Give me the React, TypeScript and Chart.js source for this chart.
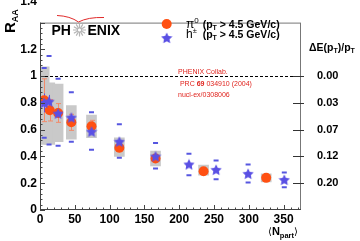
import React, { useEffect, useRef } from 'react';
import { Chart, registerables } from 'chart.js';

Chart.register(...registerables);

// ---------------- data ----------------
const pi0Npart = [6, 14, 26, 45, 74, 114, 166, 235, 325];
const pi0Raa = [0.82, 0.745, 0.725, 0.655, 0.625, 0.465, 0.385, 0.29, 0.24];
const pi0Err = [0.16, 0.08, 0.07, 0.06, 0.045, 0.03, 0.02, 0.015, 0.01];
const pi0SysLo = [0.49, 0.49, 0.51, 0.53, 0.54, 0.4, 0.33, 0.26, 0.21];
const pi0SysHi = [1.07, 0.95, 0.94, 0.78, 0.71, 0.54, 0.44, 0.335, 0.27];

const hNpart = [6, 13, 26, 45, 74, 114, 166, 214, 253, 299, 351];
const hRaa = [0.8, 0.81, 0.72, 0.69, 0.585, 0.51, 0.4, 0.34, 0.3, 0.27, 0.225];
const hErr = [0.07, 0.05, 0.03, 0, 0, 0, 0, 0, 0, 0, 0];
const hSysHi = [1.06, 1.15, 0.98, 0.88, 0.73, 0.64, 0.5, 0.42, 0.37, 0.34, 0.28];
const hSysLo = [0.54, 0.49, 0.48, 0.51, 0.45, 0.39, 0.31, 0.26, 0.23, 0.205, 0.17];

const xTickValues = [0, 50, 100, 150, 200, 250, 300, 350];
const xTickLabels = ['0', '50', '100', '150', '200', '250', '300', '350'];
const yTickValues = [0, 0.2, 0.4, 0.6, 0.8, 1.0, 1.2];
const yTickLabels = ['0', '0.2', '0.4', '0.6', '0.8', '1', '1.2'];
const rightTickValues = [1.0, 0.8, 0.6, 0.4, 0.2];
const rightTickLabels = ['0.00', '0.03', '0.07', '0.12', '0.20'];

const FONT = '"Liberation Sans", Arial, Helvetica, sans-serif';
const ORANGE = '#ff5012';
const BLUE = '#5a50e4';
const DASHBLUE = '#5656e0';
const GRAY = '#c9c9c9';
const ERRC = '#f28a6a';
const RED = '#e0241e';

function makeStar(size: number, color: string) {
  const c = document.createElement('canvas');
  c.width = size;
  c.height = size;
  const g = c.getContext('2d')!;
  const cx = size / 2, cy = size / 2 + 0.4;
  const ro = size / 2 - 0.1, ri = ro * 0.5;
  g.beginPath();
  for (let i = 0; i < 10; i++) {
    const r = i % 2 === 0 ? ro : ri;
    const a = -Math.PI / 2 + (i * Math.PI) / 5;
    const px = cx + r * Math.cos(a), py = cy + r * Math.sin(a);
    if (i === 0) g.moveTo(px, py); else g.lineTo(px, py);
  }
  g.closePath();
  g.fillStyle = color;
  g.fill();
  return c;
}

type Part = [string, string, number];
function rich(ctx: CanvasRenderingContext2D, x: number, y: number, parts: Part[]) {
  let cx = x;
  for (const [t, f, dy] of parts) {
    ctx.font = f;
    ctx.fillText(t, cx, y + dy);
    cx += ctx.measureText(t).width;
  }
}

export default function App() {
  const ref = useRef<HTMLCanvasElement | null>(null);

  useEffect(() => {
    const canvas = ref.current!;
    const star = makeStar(12, BLUE);

    const errPlugin = {
      id: 'errbars',
      afterDatasetDraw(chart: any, args: any) {
        if (args.index !== 0) return;
        const ctx = chart.ctx as CanvasRenderingContext2D;
        const xs = chart.scales.x, ys = chart.scales.y;
        ctx.save();
        ctx.lineWidth = 1;
        ctx.strokeStyle = ERRC;
        pi0Npart.forEach((n, i) => {
          if (!pi0Err[i]) return;
          const px = Math.round(xs.getPixelForValue(n)) + 0.5;
          const y1 = ys.getPixelForValue(pi0Raa[i] + pi0Err[i]);
          const y2 = ys.getPixelForValue(pi0Raa[i] - pi0Err[i]);
          ctx.beginPath();
          ctx.moveTo(px, y1); ctx.lineTo(px, y2);
          ctx.moveTo(px - 2.5, y1); ctx.lineTo(px + 2.5, y1);
          ctx.moveTo(px - 2.5, y2); ctx.lineTo(px + 2.5, y2);
          ctx.stroke();
        });
        ctx.strokeStyle = BLUE;
        hNpart.forEach((n, i) => {
          if (!hErr[i]) return;
          const px = Math.round(xs.getPixelForValue(n)) + 0.5;
          const y1 = ys.getPixelForValue(hRaa[i] + hErr[i]);
          const y2 = ys.getPixelForValue(hRaa[i] - hErr[i]);
          ctx.beginPath();
          ctx.moveTo(px, y1); ctx.lineTo(px, y2);
          ctx.stroke();
        });
        ctx.restore();
      },
    };

    const decor = {
      id: 'decor',
      afterDraw(chart: any) {
        const ctx = chart.ctx as CanvasRenderingContext2D;
        const { left, right, top, bottom } = chart.chartArea;
        const xs = chart.scales.x, ys = chart.scales.y;
        ctx.save();
        // dashed unity line
        const y1 = Math.round(ys.getPixelForValue(1)) + 0.5;
        ctx.strokeStyle = '#000';
        ctx.lineWidth = 1.2;
        ctx.setLineDash([3, 2]);
        ctx.beginPath();
        ctx.moveTo(left, y1); ctx.lineTo(right, y1);
        ctx.stroke();
        ctx.setLineDash([]);
        // frame
        ctx.strokeStyle = '#777';
        ctx.lineWidth = 1;
        ctx.strokeRect(left + 0.5, top + 0.5, right - left - 1, bottom - top - 1);
        ctx.strokeStyle = '#444';
        ctx.beginPath();
        ctx.moveTo(left + 0.5, top); ctx.lineTo(left + 0.5, bottom);
        ctx.moveTo(left, bottom - 0.5); ctx.lineTo(right, bottom - 0.5);
        ctx.stroke();
        // ticks
        ctx.strokeStyle = '#444';
        ctx.beginPath();
        for (let v = 0; v <= 375; v += 10) {
          const px = Math.round(xs.getPixelForValue(v)) + 0.5;
          const len = v % 50 === 0 ? 5 : 2.5;
          ctx.moveTo(px, bottom); ctx.lineTo(px, bottom - len);
        }
        for (let k = 0; k <= 35; k++) {
          const v = k * 0.04;
          const py = Math.round(ys.getPixelForValue(v)) + 0.5;
          const len = k % 5 === 0 ? 5 : 2.5;
          ctx.moveTo(left, py); ctx.lineTo(left + len, py);
        }
        ctx.stroke();
        ctx.strokeStyle = '#333';
        ctx.beginPath();
        rightTickValues.forEach((v) => {
          const py = Math.round(ys.getPixelForValue(v)) + 0.5;
          ctx.moveTo(right - 8, py); ctx.lineTo(right + 3, py);
        });
        ctx.stroke();

        ctx.fillStyle = '#000';
        ctx.textBaseline = 'alphabetic';
        ctx.textAlign = 'right';
        // partially visible top label
        ctx.font = `bold 12px ${FONT}`;
        ctx.fillText('1.4', 37, 5);
        ctx.textAlign = 'left';

        // R_AA title
        ctx.save();
        ctx.translate(15, 33);
        ctx.rotate(-Math.PI / 2);
        rich(ctx, 0, 0, [['R', `bold 15px ${FONT}`, 0], ['AA', `bold 9px ${FONT}`, 2.5]]);
        ctx.restore();

        // x-axis title
        rich(ctx, 268, 235, [
          ['\u27E8', `10px "DejaVu Sans", ${FONT}`, 0],
          ['N', `bold 11px ${FONT}`, 0],
          ['part', `bold 7.5px ${FONT}`, 2.5],
          ['\u27E9', `10px "DejaVu Sans", ${FONT}`, 0],
        ]);

        // right axis title
        rich(ctx, 309, 50.5, [
          ['\u0394E(p', `bold 10.5px ${FONT}`, 0],
          ['T', `bold 7px ${FONT}`, 2],
          [')/p', `bold 10.5px ${FONT}`, 0],
          ['T', `bold 7px ${FONT}`, 2],
        ]);

        // PHENIX logo
        ctx.strokeStyle = '#e02a2a';
        ctx.lineWidth = 1;
        ctx.beginPath();
        ctx.moveTo(57, 15.5);
        ctx.quadraticCurveTo(70, 16, 78.5, 22);
        ctx.quadraticCurveTo(88, 17, 104, 17.5);
        ctx.stroke();
        ctx.fillStyle = '#000';
        ctx.font = `bold 14px ${FONT}`;
        ctx.fillText('PH', 51.5, 35);
        ctx.fillText('ENIX', 87.5, 35);
        ctx.strokeStyle = '#b4b4b4';
        ctx.lineWidth = 1.2;
        ctx.beginPath();
        for (let i = 0; i < 12; i++) {
          const a = (i * Math.PI) / 6;
          ctx.moveTo(79.5 + 1.5 * Math.cos(a), 30 + 1.5 * Math.sin(a));
          ctx.lineTo(79.5 + 6.5 * Math.cos(a), 30 + 6.5 * Math.sin(a));
        }
        ctx.stroke();

        // legend
        ctx.fillStyle = ORANGE;
        ctx.beginPath();
        ctx.arc(166.7, 24, 5, 0, Math.PI * 2);
        ctx.fill();
        ctx.drawImage(star, 166.7 - 6, 38 - 6);
        ctx.fillStyle = '#000';
        rich(ctx, 186, 27.5, [['\u03C0', `12px ${FONT}`, 0], ['0', `8px ${FONT}`, -5]]);
        rich(ctx, 202.7, 27.5, [
          ['(p', `bold 10.5px ${FONT}`, 0],
          ['T', `bold 7px ${FONT}`, 2],
          [' > 4.5 GeV/c)', `bold 10.5px ${FONT}`, 0],
        ]);
        rich(ctx, 186, 37.5, [['h', `12px ${FONT}`, 0], ['\u00B1', `7.5px ${FONT}`, -4.5]]);
        rich(ctx, 202.7, 37.5, [
          ['(p', `bold 10.5px ${FONT}`, 0],
          ['T', `bold 7px ${FONT}`, 2],
          [' > 4.5 GeV/c)', `bold 10.5px ${FONT}`, 0],
        ]);

        // reference text
        ctx.fillStyle = RED;
        rich(ctx, 178, 74.2, [['PHENIX Collab.', `7px ${FONT}`, 0]]);
        rich(ctx, 178, 85.8, [
          [' PRC ', `7px ${FONT}`, 0],
          ['69', `bold 7px ${FONT}`, 0],
          [' 034910 (2004)', `7px ${FONT}`, 0],
        ]);
        rich(ctx, 178, 96.5, [['nucl-ex/0308006', `7px ${FONT}`, 0]]);
        ctx.restore();
      },
    };

    const chart = new Chart(canvas, {
      type: 'scatter',
      data: {
        datasets: [
          {
            type: 'bar',
            label: 'sys',
            data: pi0Npart.map((n, i) => ({ x: n, y: [pi0SysLo[i], pi0SysHi[i]] })) as any,
            backgroundColor: GRAY,
            borderWidth: 0,
            barThickness: 10,
            grouped: false,
            order: 10,
            xAxisID: 'x',
            yAxisID: 'y',
          } as any,
          {
            label: 'hSysHi',
            data: hNpart.map((n, i) => ({ x: n, y: hSysHi[i] })),
            pointStyle: 'line',
            radius: 2.5,
            borderWidth: 2,
            borderColor: DASHBLUE,
            order: 5,
            xAxisID: 'x',
            yAxisID: 'y',
          },
          {
            label: 'hSysLo',
            data: hNpart.map((n, i) => ({ x: n, y: hSysLo[i] })),
            pointStyle: 'line',
            radius: 2.5,
            borderWidth: 2,
            borderColor: DASHBLUE,
            order: 5,
            xAxisID: 'x',
            yAxisID: 'y',
          },
          {
            label: 'pi0',
            data: pi0Npart.map((n, i) => ({ x: n, y: pi0Raa[i] })),
            pointStyle: 'circle',
            radius: 5,
            borderWidth: 0,
            backgroundColor: ORANGE,
            order: 2,
            xAxisID: 'x',
            yAxisID: 'y',
          },
          {
            label: 'h',
            data: hNpart.map((n, i) => ({ x: n, y: hRaa[i] })),
            pointStyle: star as any,
            radius: 6,
            order: 1,
            xAxisID: 'x',
            yAxisID: 'y',
          },
        ],
      },
      options: {
        animation: false,
        responsive: false,
        devicePixelRatio: 1,
        layout: { padding: { top: 10, left: 0, right: 0, bottom: 0 } },
        plugins: { legend: { display: false }, tooltip: { enabled: false } },
        scales: {
          x: {
            type: 'linear',
            min: 0,
            max: 375,
            offset: false,
            grid: { display: false, drawTicks: false },
            border: { display: false },
            afterBuildTicks: (s: any) => { s.ticks = xTickValues.map((v) => ({ value: v })); },
            afterFit: (s: any) => { s.height = 31; },
            ticks: {
              callback: (_v: any, i: number) => xTickLabels[i],
              font: { family: FONT, size: 12, weight: 'bold' },
              color: '#000',
              padding: 2,
              maxRotation: 0,
              autoSkip: false,
            },
          },
          y: {
            type: 'linear',
            position: 'left',
            min: 0,
            max: 1.4,
            grid: { display: false, drawTicks: false },
            border: { display: false },
            afterBuildTicks: (s: any) => { s.ticks = yTickValues.map((v) => ({ value: v })); },
            afterFit: (s: any) => { s.width = 40; },
            ticks: {
              callback: (_v: any, i: number) => yTickLabels[i],
              font: { family: FONT, size: 12, weight: 'bold' },
              color: '#000',
              padding: 3,
              autoSkip: false,
            },
          },
          y2: {
            type: 'linear',
            position: 'right',
            min: 0,
            max: 1.4,
            grid: { display: false, drawTicks: false },
            border: { display: false },
            afterBuildTicks: (s: any) => { s.ticks = rightTickValues.map((v) => ({ value: v })); },
            afterFit: (s: any) => { s.width = 59; },
            ticks: {
              callback: (_v: any, i: number) => rightTickLabels[i],
              font: { family: FONT, size: 11, weight: 'bold' },
              color: '#000',
              padding: 16,
              autoSkip: false,
            },
          },
        },
      } as any,
      plugins: [errPlugin, decor],
    });
    return () => chart.destroy();
  }, []);

  return (
    <div style={{ position: 'fixed', left: 0, top: 0, width: 360, height: 241, background: '#fff' }}>
      <canvas ref={ref} width={360} height={241} style={{ display: 'block', width: 360, height: 241 }} />
    </div>
  );
}
